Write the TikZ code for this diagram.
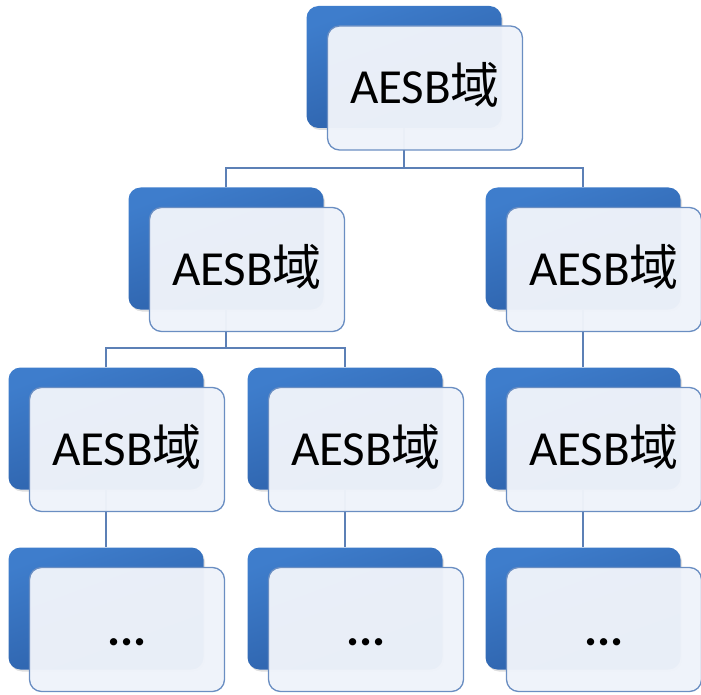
\documentclass[tikz,border=0pt]{standalone}
\usepackage{fontspec}
\setmainfont{Carlito}
\newfontfamily\cjk{Noto Sans CJK SC}
\usetikzlibrary{shadows}
\definecolor{bluetop}{HTML}{3E7DCC}
\definecolor{bluebot}{HTML}{2B5EA6}
\definecolor{frontfill}{HTML}{EFF3FA}
\definecolor{frontedge}{HTML}{6A8EC2}
\definecolor{linkcol}{HTML}{5C80B6}
\tikzset{
  backbox/.style={rectangle, rounded corners=12pt, minimum width=195pt, minimum height=122pt,
    inner sep=0pt, top color=bluetop, bottom color=bluebot, shading angle=20, draw=none,
    drop shadow={shadow xshift=1.5pt, shadow yshift=-2pt, opacity=0.25}},
  frontbox/.style={rectangle, rounded corners=12pt, minimum width=195pt, minimum height=124pt,
    inner sep=0pt, fill=frontfill, fill opacity=0.97, draw=frontedge, line width=1.3pt,
    text opacity=1, font=\fontsize{49}{55}\selectfont, text height=32pt, text depth=0pt},
  anchorbox/.style={rectangle, minimum width=195pt, minimum height=122pt, inner sep=0pt},
  link/.style={draw=linkcol, line width=1.5pt}
}
\newcommand{\aesb}{AESB{\cjk 域}}
\newcommand{\dotsbold}{\textbf{...}}
\begin{document}
\begin{tikzpicture}[x=1pt,y=-1pt]
\useasboundingbox (0,0) rectangle (701,695);
\path
  (404,67)    coordinate (p1)
  (226,248.5) coordinate (p2)
  (583,248.5) coordinate (p3)
  (106,428.5) coordinate (p4)
  (345,428.5) coordinate (p5)
  (583,428.5) coordinate (p6)
  (106,608.5) coordinate (p7)
  (345,608.5) coordinate (p8)
  (583,608.5) coordinate (p9);
\coordinate (j1) at (404,168);
\coordinate (j2) at (226,348);
\foreach \i in {1,...,9} {
  \node[anchorbox] (b\i) at (p\i) {};
}
% connectors (drawn first, seen through the front boxes)
\draw[link] (b1.south) -- (j1);
\draw[link] (b2.north) |- (j1) -| (b3.north);
\draw[link] (b2.south) -- (j2);
\draw[link] (b4.north) |- (j2) -| (b5.north);
\draw[link] (b3.south) -- (b6.north);
\draw[link] (b4.south) -- (b7.north);
\draw[link] (b5.south) -- (b8.north);
\draw[link] (b6.south) -- (b9.north);
% blue back boxes
\foreach \i in {1,...,9} {
  \node[backbox] at (p\i) {};
}
% front boxes with text
\node[frontbox] (f1) at ([shift={(21,21)}]p1) {\aesb};
\node[frontbox] (f2) at ([shift={(21,21)}]p2) {\aesb};
\node[frontbox] (f3) at ([shift={(21,21)}]p3) {\aesb};
\node[frontbox] (f4) at ([shift={(21,21)}]p4) {\aesb};
\node[frontbox] (f5) at ([shift={(21,21)}]p5) {\aesb};
\node[frontbox] (f6) at ([shift={(21,21)}]p6) {\aesb};
\node[frontbox] (f7) at ([shift={(21,21)}]p7) {\dotsbold};
\node[frontbox] (f8) at ([shift={(21,21)}]p8) {\dotsbold};
\node[frontbox] (f9) at ([shift={(21,21)}]p9) {\dotsbold};
\end{tikzpicture}
\end{document}
